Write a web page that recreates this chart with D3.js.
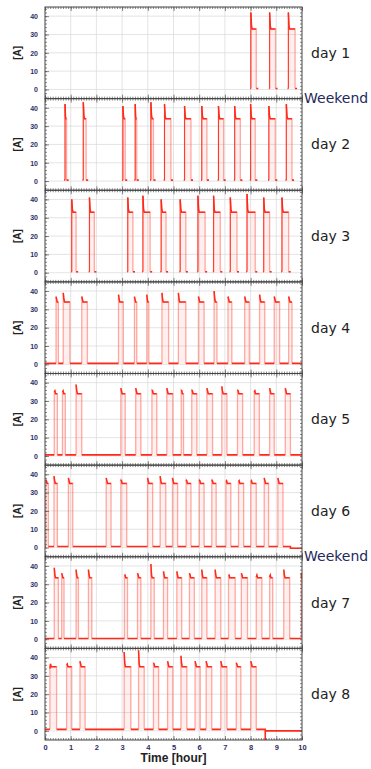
<!DOCTYPE html>
<html>
<head>
<meta charset="utf-8">
<script src="https://cdn.jsdelivr.net/npm/d3@7"></script>
<style>
  html, body { margin: 0; padding: 0; background: #fff; }
  svg { display: block; }
</style>
</head>
<body>
<div id="chart"></div>
<script>
// day labels and which panel boundaries carry a "Weekend" note (after that day index)
const days = ["day 1", "day 2", "day 3", "day 4", "day 5", "day 6", "day 7", "day 8"];
const weekendAfter = [0, 5];

// pulse start / end times [hour] and peak current [A]
const pulseStart = [
  [8.01, 8.74, 9.47],
  [0.78, 1.49, 3.03, 3.51, 4.12, 4.65, 5.43, 6.10, 6.75, 7.38, 8.00, 8.71, 9.39],
  [1.04, 1.73, 3.22, 3.81, 4.52, 5.26, 5.95, 6.56, 7.21, 7.86, 8.51, 9.22],
  [0.43, 0.71, 1.43, 2.86, 3.48, 3.96, 4.55, 5.19, 5.97, 6.58, 7.12, 7.77, 8.35, 8.92, 9.48],
  [0.36, 0.68, 1.21, 2.95, 3.53, 4.16, 4.74, 5.30, 5.71, 6.30, 6.88, 7.49, 8.14, 8.74, 9.35],
  [0.03, 0.35, 0.91, 2.38, 2.95, 3.99, 4.48, 4.96, 5.49, 6.00, 6.49, 7.04, 7.53, 8.01, 8.53, 9.06],
  [0.36, 0.65, 1.21, 1.69, 3.09, 3.60, 4.12, 4.61, 5.13, 5.62, 6.10, 6.62, 7.14, 7.64, 8.22, 8.74, 9.29, 9.97],
  [0.19, 0.84, 1.36, 3.08, 3.64, 4.22, 4.77, 5.29, 5.84, 6.27, 6.84, 7.44, 8.01]
];
const pulseEnd = [
  [8.22, 8.97, 9.73],
  [0.84, 1.60, 3.12, 3.57, 4.22, 4.90, 5.68, 6.30, 6.95, 7.60, 8.18, 8.96, 9.61],
  [1.21, 1.92, 3.42, 4.09, 4.71, 5.48, 6.23, 6.82, 7.47, 8.18, 8.74, 9.48],
  [0.52, 0.97, 1.65, 3.05, 3.57, 4.04, 4.81, 5.48, 6.19, 6.69, 7.27, 7.95, 8.55, 9.13, 9.61],
  [0.48, 0.79, 1.43, 3.12, 3.73, 4.35, 4.97, 5.39, 5.91, 6.52, 7.08, 7.69, 8.34, 8.92, 9.55],
  [0.13, 0.48, 1.08, 2.57, 3.18, 4.19, 4.70, 5.16, 5.68, 6.19, 6.66, 7.23, 7.73, 8.22, 8.70, 9.26],
  [0.52, 0.74, 1.30, 1.82, 3.21, 3.73, 4.25, 4.77, 5.32, 5.81, 6.30, 6.84, 7.40, 7.88, 8.44, 8.86, 9.52, 10.0],
  [0.45, 1.04, 1.56, 3.34, 3.86, 4.42, 4.97, 5.52, 6.04, 6.49, 7.08, 7.62, 8.22]
];
const pulsePeak = [
  [42, 42, 42],
  [42, 43, 41, 42, 43, 42, 41, 41, 41, 41, 42, 41, 42],
  [40, 41, 41, 42, 40, 40, 42, 42, 41, 43, 41, 41],
  [37, 39, 37, 38, 37, 38, 39, 39, 37, 40, 37, 37, 38, 37, 37],
  [35, 35, 39, 37, 37, 36, 37, 36, 36, 37, 38, 36, 35, 37, 37],
  [37, 39, 38, 38, 37, 38, 39, 38, 37, 37, 37, 36, 36, 36, 38, 38],
  [39, 36, 38, 38, 35, 36, 41, 37, 37, 36, 38, 38, 35, 36, 34, 34, 38, 36],
  [34, 36, 38, 43, 44, 37, 38, 41, 38, 38, 38, 37, 38]
];
const plateau = [33, 34, 33, 34, 34, 35, 33.5, 35];
// idle current between pulses (null = no samples logged)
const baseLevel = [null, null, null, 0.5, 0.6, 0.6, 0.4, 0.8];
// end-of-day change of idle level: time, new level, dip reached on the way
const tailTime = [null, null, null, null, null, 9.55, null, 8.57];
const tailLevel = [null, null, null, null, null, -0.4, null, 0];
const tailDip = [null, null, null, null, null, -0.4, null, -8];

const xTicks = d3.range(0, 11);
const yTicks = [0, 10, 20, 30, 40];

const width = 371, height = 769;
const left = 45, right = 302;
const panelTop = 7, panelBottom = 740;

const svg = d3.select("#chart").append("svg")
  .attr("width", width)
  .attr("height", height)
  .style("font-family", "'Liberation Sans', Arial, sans-serif");

const x = d3.scaleLinear().domain([0, 10]).range([left, right]);
const panelY = d3.scaleLinear().domain([0, days.length]).range([panelTop, panelBottom]);
const panelH = panelY(1) - panelY(0);
const y = d3.scaleLinear().domain([-5, 45]).range([panelH, 0]);

const line = d3.line().x(d => x(d[0])).y(d => y(d[1]));

days.forEach((name, i) => {
  const g = svg.append("g").attr("transform", `translate(0,${panelY(i)})`);

  g.append("clipPath").attr("id", "clip" + i)
    .append("rect").attr("x", left).attr("y", 0)
    .attr("width", right - left).attr("height", panelH);

  // grid
  g.append("g").selectAll("line.gx").data(xTicks.slice(1, -1)).join("line")
    .attr("x1", d => x(d)).attr("x2", d => x(d))
    .attr("y1", 0).attr("y2", panelH)
    .attr("stroke", "#d9d9d9").attr("stroke-width", 0.7);
  g.append("g").selectAll("line.gy").data(yTicks).join("line")
    .attr("x1", left).attr("x2", right)
    .attr("y1", d => y(d)).attr("y2", d => y(d))
    .attr("stroke", "#d9d9d9").attr("stroke-width", 0.7);

  const plot = g.append("g").attr("clip-path", `url(#clip${i})`);
  const base = baseLevel[i];
  const lvl = base === null ? 0.5 : base;
  const starts = pulseStart[i], ends = pulseEnd[i], peaks = pulsePeak[i];
  const pl = plateau[i];

  const pulses = starts.map((s, k) => {
    const e = ends[k];
    const w = Math.min(0.05, (e - s) * 0.5);
    return {
      s, e,
      top: [[s, peaks[k]], [s + w * 0.5, pl + 1.5], [s + w, pl], [e, pl]],
      outline: [[s, lvl], [s, peaks[k]], [s + w * 0.5, pl + 1.5], [s + w, pl], [e, pl], [e, lvl]]
    };
  });

  // faint fill and pale edges of each pulse
  plot.selectAll("path.fill").data(pulses).join("path")
    .attr("d", p => line(p.outline) + "Z")
    .attr("fill", "#ff2a1a").attr("fill-opacity", 0.07).attr("stroke", "none");
  plot.selectAll("path.edge").data(pulses).join("path")
    .attr("d", p => line(p.outline))
    .attr("fill", "none").attr("stroke", "#ff5a4a")
    .attr("stroke-opacity", 0.5).attr("stroke-width", 1.3);

  // idle current
  let idle = [];
  if (base === null) {
    pulses.forEach(p => {
      idle.push([[p.s - 0.03, lvl], [p.s, lvl]]);
      idle.push([[p.e, lvl], [p.e + 0.08, lvl]]);
    });
  } else {
    let t0 = 0;
    pulses.forEach(p => { idle.push([[t0, base], [p.s, base]]); t0 = p.e; });
    if (tailTime[i] !== null) {
      idle.push([[t0, base], [tailTime[i], base], [tailTime[i], tailDip[i]],
                 [tailTime[i], tailLevel[i]], [10, tailLevel[i]]]);
    } else {
      idle.push([[t0, base], [10, base]]);
    }
  }
  plot.selectAll("path.idle").data(idle).join("path")
    .attr("d", line)
    .attr("fill", "none").attr("stroke", "#ff2a1a").attr("stroke-width", 1.6);

  // pulse tops
  plot.selectAll("path.top").data(pulses).join("path")
    .attr("d", p => line(p.top))
    .attr("fill", "none").attr("stroke", "#ff2a1a").attr("stroke-width", 1.5);
  if (base === null) {
    plot.selectAll("path.rise").data(pulses).join("path")
      .attr("d", p => line([[p.s, lvl], [p.s, pulsePeak[i][starts.indexOf(p.s)]]]))
      .attr("fill", "none").attr("stroke", "#ff2a1a").attr("stroke-width", 0.9);
  }

  // inward ticks on all four sides
  g.append("g").attr("transform", `translate(0,${panelH})`)
    .call(d3.axisBottom(x).tickValues(d3.range(0, 100.5, 1).map(d => d / 10)).tickSize(-2).tickFormat(""));
  g.append("g")
    .call(d3.axisTop(x).tickValues(d3.range(0, 100.5, 1).map(d => d / 10)).tickSize(-2).tickFormat(""));
  g.append("g").attr("transform", `translate(0,${panelH})`)
    .call(d3.axisBottom(x).tickValues(xTicks).tickSize(-4).tickFormat(""));
  g.append("g")
    .call(d3.axisTop(x).tickValues(xTicks).tickSize(-4).tickFormat(""));
  g.append("g").attr("transform", `translate(${left},0)`)
    .call(d3.axisLeft(y).tickValues(d3.range(-4, 45, 2)).tickSize(-2).tickFormat(""));
  g.append("g").attr("transform", `translate(${right},0)`)
    .call(d3.axisRight(y).tickValues(d3.range(-4, 45, 2)).tickSize(-2).tickFormat(""));
  g.append("g").attr("transform", `translate(${left},0)`)
    .call(d3.axisLeft(y).tickValues(yTicks).tickSize(-4).tickPadding(7)
      .tickFormat(d3.format("d")))
    .call(ax => ax.selectAll("text").attr("font-size", 7).attr("font-weight", "bold").attr("fill", "#2e2e66"));
  g.selectAll(".domain").remove();
  g.selectAll(".tick line").attr("stroke", "#555").attr("stroke-width", 0.7);

  g.append("rect")
    .attr("x", left).attr("y", 0).attr("width", right - left).attr("height", panelH)
    .attr("fill", "none").attr("stroke", "#444").attr("stroke-width", 1);

  g.append("text")
    .attr("transform", `translate(18,${panelH / 2}) rotate(-90)`)
    .attr("text-anchor", "middle").attr("dominant-baseline", "middle")
    .attr("font-size", 10).attr("font-weight", "bold").attr("fill", "#222")
    .text("[A]");

  g.append("text")
    .attr("x", 311).attr("y", panelH / 2 + 1)
    .attr("dominant-baseline", "middle")
    .attr("font-family", "'DejaVu Sans', Verdana, sans-serif")
    .attr("font-size", 14).attr("fill", "#222")
    .text(name);
});

// weekend notes sit on the boundary under the given day
svg.selectAll("text.weekend").data(weekendAfter).join("text")
  .attr("x", 304).attr("y", d => panelY(d + 1))
  .attr("dominant-baseline", "middle")
  .attr("font-family", "'DejaVu Sans', Verdana, sans-serif")
  .attr("font-size", 14).attr("fill", "#1e2a5a")
  .text("Weekend");

// bottom axis labels
const xAxis = svg.append("g").attr("transform", `translate(0,${panelBottom})`)
  .call(d3.axisBottom(x).tickValues(xTicks).tickSize(0).tickPadding(5).tickFormat(d3.format("d")));
xAxis.select(".domain").remove();
xAxis.selectAll("text").attr("font-size", 7.5).attr("font-weight", "bold").attr("fill", "#2e2e66");

svg.append("text")
  .attr("x", (left + right) / 2).attr("y", 762)
  .attr("text-anchor", "middle")
  .attr("font-size", 12).attr("font-weight", "bold").attr("fill", "#222")
  .text("Time [hour]");
</script>
</body>
</html>
